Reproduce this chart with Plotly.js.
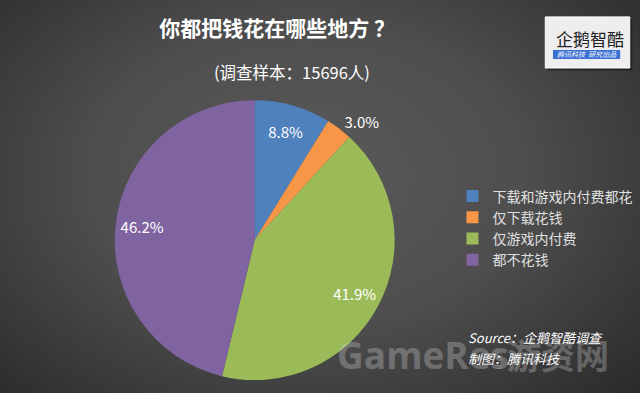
<!DOCTYPE html>
<html><head><meta charset="utf-8">
<script src="https://cdn.plot.ly/plotly-3.0.1.min.js"></script>
<style>
html,body{margin:0;padding:0;}
body{width:640px;height:393px;background:radial-gradient(ellipse 75% 85% at 48% 45%, #5a5a5a 0%, #4e4e4e 45%, #353535 80%, #262626 100%);}
#chart{width:640px;height:393px;}
</style></head>
<body><div id="chart"></div>
<script>
const categories = ['下载和游戏内付费都花', '仅下载花钱', '仅游戏内付费', '都不花钱'];
const shares = [8.8, 3.0, 41.9, 46.2];
const colors = ['#4F81BD', '#F79646', '#9BBB59', '#8064A2'];
const labelPositions = ['inside', 'outside', 'inside', 'inside'];

const font = '"Noto Sans CJK SC", "Noto Sans", sans-serif';
const pieDomain = {x: [0.098, 0.698], y: [0.033, 0.745]};

const trace = {
  type: 'pie',
  labels: categories,
  values: shares,
  sort: false,
  direction: 'clockwise',
  rotation: 0,
  marker: {colors: colors, line: {width: 0}},
  textinfo: 'none',
  domain: pieDomain,
  hoverinfo: 'none'
};

// transparent ring overlay: places the data labels near the outer rim like the original
const labelRing = {
  type: 'pie',
  labels: categories,
  values: shares,
  sort: false,
  direction: 'clockwise',
  rotation: 0,
  hole: 0.62,
  showlegend: false,
  marker: {colors: ['rgba(0,0,0,0)', 'rgba(0,0,0,0)', 'rgba(0,0,0,0)', 'rgba(0,0,0,0)'], line: {width: 0}},
  texttemplate: '%{value:.1f}%',
  textposition: labelPositions,
  insidetextorientation: 'horizontal',
  textfont: {family: font, size: 15, color: '#ffffff'},
  outsidetextfont: {family: font, size: 15, color: '#ffffff'},
  domain: pieDomain,
  hoverinfo: 'none'
};

const layout = {
  width: 640, height: 393,
  margin: {l: 0, r: 0, t: 0, b: 0},
  paper_bgcolor: 'rgba(0,0,0,0)',
  plot_bgcolor: 'rgba(0,0,0,0)',
  showlegend: true,
  legend: {
    x: 0.707, y: 0.42, xanchor: 'left', yanchor: 'middle',
    font: {family: font, size: 14, color: '#e0e0e0'},
    itemwidth: 30, tracegroupgap: 0,
    bgcolor: 'rgba(0,0,0,0)'
  },
  title: {
    text: '<b>你都把钱花在哪些地方 ？</b>',
    font: {family: font, size: 21, color: '#ffffff'},
    x: 0.433, xanchor: 'center', y: 0.928, yanchor: 'middle'
  },
  shapes: [
    {type: 'rect', xref: 'paper', yref: 'paper', x0: 0.856, x1: 0.988, y0: 0.82, y1: 0.95,
     fillcolor: 'rgba(0,0,0,0.35)', line: {width: 0}},
    {type: 'rect', xref: 'paper', yref: 'paper', x0: 0.852, x1: 0.984, y0: 0.827, y1: 0.957,
     fillcolor: '#eeeeee', line: {color: '#ffffff', width: 1}},
    {type: 'rect', xref: 'paper', yref: 'paper', x0: 0.864, x1: 0.969, y0: 0.850, y1: 0.873,
     fillcolor: '#3b6fd4', line: {width: 0}}
  ],
  annotations: [
    {text: '(调查样本：15696人)', xref: 'paper', yref: 'paper', x: 0.457, y: 0.817,
     xanchor: 'center', yanchor: 'middle',
     showarrow: false, font: {family: font, size: 16.5, color: '#ffffff'}},
    {text: '<b>GameRes</b>', xref: 'paper', yref: 'paper', x: 0.523, y: 0.097,
     xanchor: 'left', yanchor: 'middle', showarrow: false, opacity: 0.28,
     font: {family: '"Open Sans", sans-serif', size: 37, color: '#e0e0e0'}},
    {text: '.com', xref: 'paper', yref: 'paper', x: 0.782, y: 0.085, textangle: 90,
     xanchor: 'center', yanchor: 'middle', showarrow: false, opacity: 0.28,
     font: {family: font, size: 9, color: '#e0e0e0'}},
    {text: '<b>游资网</b>', xref: 'paper', yref: 'paper', x: 0.954, y: 0.097,
     xanchor: 'right', yanchor: 'middle', showarrow: false, opacity: 0.28,
     font: {family: font, size: 34, color: '#e0e0e0'}},
    {text: '<i>Source：企鹅智酷调查</i>', xref: 'paper', yref: 'paper', x: 0.728, y: 0.14,
     xanchor: 'left', yanchor: 'middle', showarrow: false, font: {family: font, size: 13, color: '#ffffff'}},
    {text: '<i>制图：腾讯科技</i>', xref: 'paper', yref: 'paper', x: 0.728, y: 0.089,
     xanchor: 'left', yanchor: 'middle', showarrow: false, font: {family: font, size: 13, color: '#ffffff'}},
    {text: '企鹅智酷', xref: 'paper', yref: 'paper', x: 0.922, y: 0.903,
     xanchor: 'center', yanchor: 'middle',
     showarrow: false, font: {family: font, size: 17, color: '#222222'}},
    {text: '<i>腾讯科技  研究出品</i>', xref: 'paper', yref: 'paper', x: 0.9165, y: 0.8615,
     xanchor: 'center', yanchor: 'middle',
     showarrow: false, font: {family: font, size: 7, color: '#ffffff'}}
  ]
};

Plotly.newPlot('chart', [trace, labelRing], layout, {displayModeBar: false, staticPlot: true});
</script>
</body></html>
